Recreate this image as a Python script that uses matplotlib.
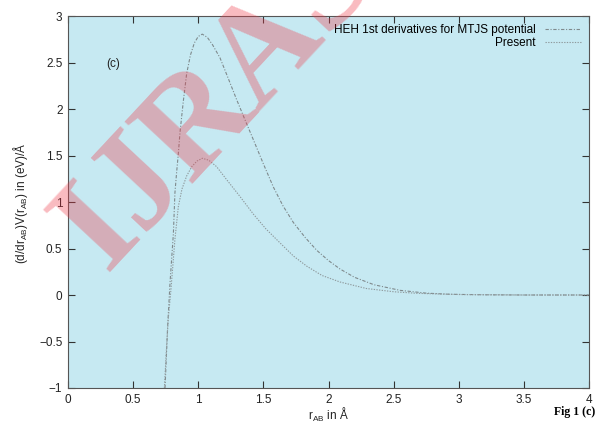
import matplotlib
matplotlib.use("Agg")
import matplotlib.pyplot as plt

# Data
r_heh = [0.745, 0.765, 0.783, 0.809, 0.821, 0.834, 0.847, 0.86, 0.885, 0.911, 0.94, 0.97, 1.0,
         1.031, 1.07, 1.11, 1.167, 1.23, 1.295, 1.36, 1.423, 1.5, 1.577, 1.65, 1.73, 1.82,
         1.91, 2.0, 2.088, 2.2, 2.35, 2.55, 2.75, 2.93, 3.2, 3.5, 4.0]
v_heh = [-1.0, -0.34, 0.126, 0.66, 1.10, 1.32, 1.52, 1.75, 2.08, 2.38, 2.58, 2.71, 2.78,
         2.805, 2.77, 2.69, 2.55, 2.33, 2.10, 1.88, 1.67, 1.41, 1.16, 0.96, 0.78, 0.62,
         0.48, 0.37, 0.28, 0.19, 0.11, 0.05, 0.02, 0.008, 0.002, 0.0, 0.0]

r_present = [0.74, 0.755, 0.77, 0.788, 0.803, 0.821, 0.847, 0.875, 0.911, 0.95, 0.99, 1.031,
             1.08, 1.141, 1.218, 1.32, 1.423, 1.52, 1.628, 1.73, 1.833, 1.95, 2.088, 2.29,
             2.5, 2.68, 3.0, 3.5, 4.0]
v_present = [-1.0, -0.6, -0.25, 0.02, 0.28, 0.6, 0.95, 1.14, 1.28, 1.38, 1.44, 1.47,
             1.45, 1.38, 1.24, 1.06, 0.87, 0.71, 0.56, 0.42, 0.31, 0.21, 0.14, 0.07,
             0.035, 0.018, 0.005, 0.0, 0.0]

xticks = [0, 0.5, 1, 1.5, 2, 2.5, 3, 3.5, 4]
yticks = [-1, -0.5, 0, 0.5, 1, 1.5, 2, 2.5, 3]

plt.rcParams['font.family'] = ['Liberation Sans', 'DejaVu Sans']
plt.rcParams['mathtext.fontset'] = 'custom'
plt.rcParams['mathtext.rm'] = 'Liberation Sans'
plt.rcParams['mathtext.it'] = 'Liberation Sans'
plt.rcParams['mathtext.default'] = 'rm'

W, H = 597, 426
fig = plt.figure(figsize=(W / 100, H / 100), dpi=100)
ax = fig.add_axes([68 / W, 1 - 388 / H, (589 - 68) / W, (388 - 16) / H])
ax.set_facecolor('#c6e9f2')

ax.plot(r_heh, v_heh, color='#7f8a8d', lw=0.8, ls=(0, (3, 1.5, 1, 1.5)),
        label='HEH 1st derivatives for MTJS potential', zorder=3)
ax.plot(r_present, v_present, color='#8f9a9d', lw=0.8, ls=(0, (1.2, 1.2)),
        label='Present', zorder=3)

ax.set_xlim(0, 4)
ax.set_ylim(-1, 3)
ax.set_xticks(xticks)
ax.set_xticklabels([f'{t:g}' for t in xticks])
ax.set_yticks(yticks)
ax.set_yticklabels([f'{t:g}'.replace('-', '\u2212') for t in yticks])
ax.tick_params(direction='in', length=5, top=True, right=True, labelsize=8.5,
               color='#333333', labelcolor='#222222', pad=4)
for s in ax.spines.values():
    s.set_color('#555555')
    s.set_linewidth(0.8)

fig.text(328 / W, 1 - 415 / H, r'r$_{AB}$ in Å', fontsize=8.5, color='#222222',
         ha='center', va='center')
fig.text(21 / W, 1 - 203 / H, r'(d/dr$_{AB}$)V(r$_{AB}$) in (eV)/Å', fontsize=8.5,
         color='#222222', ha='center', va='center', rotation=90)

ax.text(0.35, 2.48, '(c)', fontsize=8.5, color='#222222', ha='center', va='center')

leg = ax.legend(loc='upper right', frameon=False, markerfirst=False, fontsize=8.5,
                handlelength=3, borderaxespad=0.3, labelspacing=0.1, handletextpad=0.8)
for t in leg.get_texts():
    t.set_ha('right')
leg._legend_box.align = 'right'

fig.text(575 / W, 1 - 412 / H, 'Fig 1 (c)', family='Liberation Serif', fontweight='bold',
         fontsize=8.5, ha='center', va='center')

# Watermark
fig.text(106 / W, 1 - 272 / H, 'IJRAS', family='Liberation Serif', fontweight='bold',
         fontsize=100, color=(240 / 255, 60 / 255, 75 / 255), alpha=0.35, rotation=47,
         rotation_mode='anchor', ha='left', va='baseline', zorder=5)

fig.savefig('out.png', dpi=100)
